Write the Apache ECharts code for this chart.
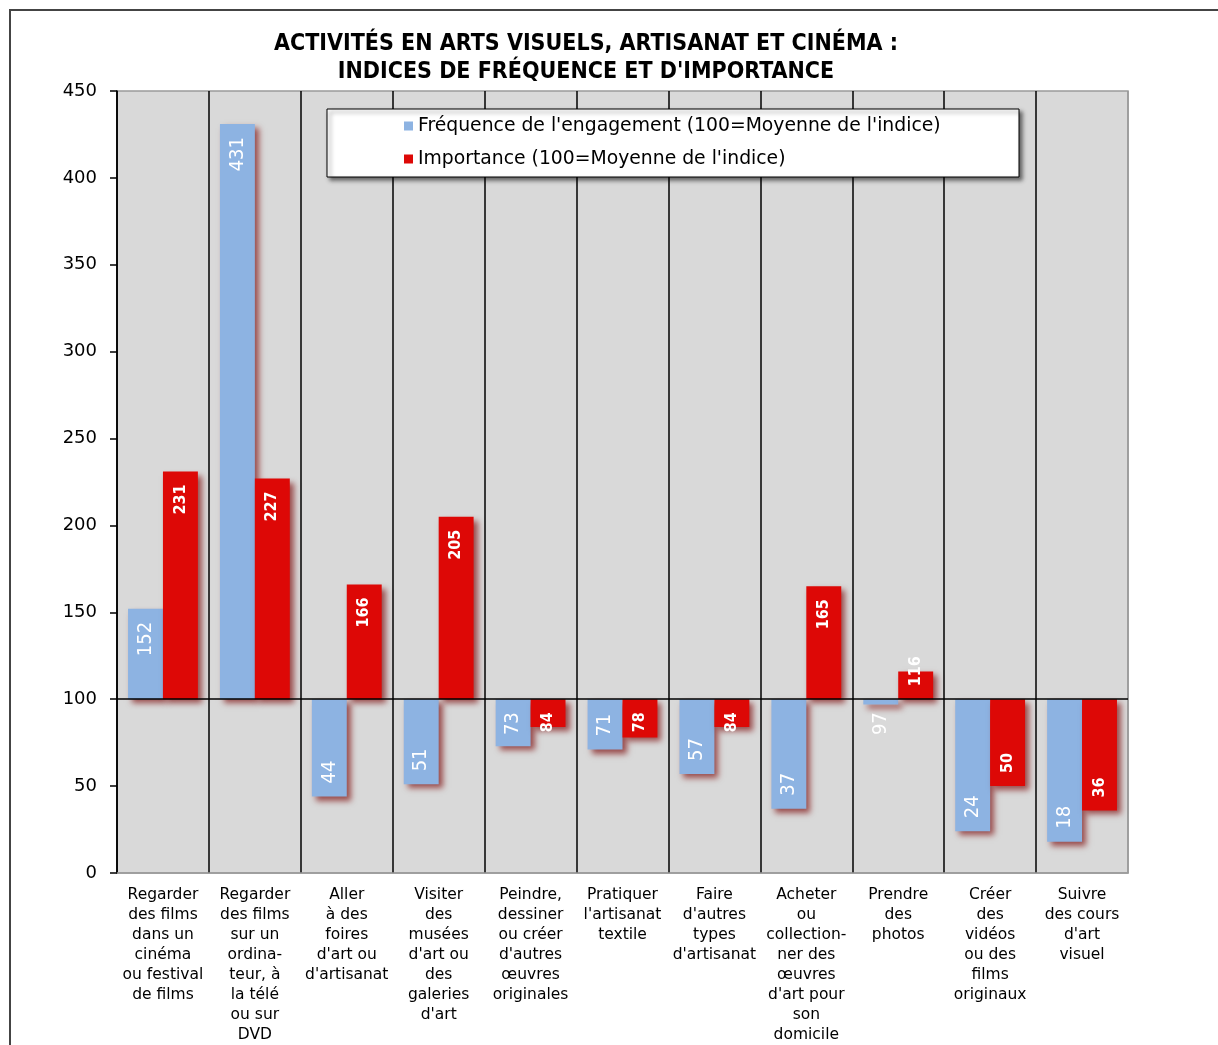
<!DOCTYPE html>
<html>
<head>
<meta charset="utf-8">
<title>Activités en arts visuels, artisanat et cinéma</title>
<script src="https://cdn.jsdelivr.net/npm/echarts@6/dist/echarts.min.js"></script>
<style>
  html, body { margin: 0; padding: 0; background: #fff; }
  #chart { width: 1218px; height: 1045px; }
</style>
</head>
<body>
<div id="chart"></div>
<script>
// valeurs (indice, 100 = moyenne)
var categories = [
  "Regarder\ndes films\ndans un\ncinéma\nou festival\nde films",
  "Regarder\ndes films\nsur un\nordina-\nteur, à\nla télé\nou sur\nDVD",
  "Aller\nà des\nfoires\nd'art ou\nd'artisanat",
  "Visiter\ndes\nmusées\nd'art ou\ndes\ngaleries\nd'art",
  "Peindre,\ndessiner\nou créer\nd'autres\nœuvres\noriginales",
  "Pratiquer\nl'artisanat\ntextile",
  "Faire\nd'autres\ntypes\nd'artisanat",
  "Acheter\nou\ncollection-\nner des\nœuvres\nd'art pour\nson\ndomicile",
  "Prendre\ndes\nphotos",
  "Créer\ndes\nvidéos\nou des\nfilms\noriginaux",
  "Suivre\ndes cours\nd'art\nvisuel"
];
var frequence = [152, 431, 44, 51, 73, 71, 57, 37, 97, 24, 18];
var importance = [231, 227, 166, 205, 84, 78, 84, 165, 116, 50, 36];
var seriesNames = [
  "Fréquence de l'engagement (100=Moyenne de l'indice)",
  "Importance (100=Moyenne de l'indice)"
];
var BASE = 100;

var FONT = "'DejaVu Sans', sans-serif";
var FONT_C = "'DejaVu Sans Condensed', 'DejaVu Sans', sans-serif";
var BLUE = "#8DB3E2";
var RED = "#DD0806";
var LABEL_PAD = 13;

var measureCtx = document.createElement("canvas").getContext("2d");
var textWidth = function (txt, font) {
  measureCtx.font = font;
  return measureCtx.measureText(txt).width;
};

// barre partant de la ligne 100, étiquette tournée façon Excel
var makeRender = function (side, color, labelFont) {
  return function (params, api) {
    var i = api.value(0);
    var v = api.value(1);
    var base = api.coord([i, BASE]);
    var end = api.coord([i, v]);
    var band = api.size([1, 0])[0];
    var w = band * 0.38;
    var x = side < 0 ? base[0] - w : base[0];
    var top = Math.min(base[1], end[1]);
    var h = Math.abs(base[1] - end[1]);
    var txt = String(v);
    var box = textWidth(txt, labelFont) + 2 * LABEL_PAD;
    var dir = v >= BASE ? -1 : 1;
    var cy = box <= h ? end[1] - dir * box / 2 : base[1] + dir * box / 2;
    return {
      type: "group",
      children: [
        {
          type: "rect",
          shape: { x: x, y: top, width: w, height: h },
          style: {
            fill: color,
            shadowColor: "rgba(120,0,0,0.65)",
            shadowBlur: 6,
            shadowOffsetX: 4,
            shadowOffsetY: 4
          }
        },
        {
          type: "text",
          x: x + w / 2,
          y: cy,
          rotation: Math.PI / 2,
          z2: 10,
          style: {
            text: txt,
            fill: "#fff",
            font: labelFont,
            align: "center",
            verticalAlign: "middle"
          }
        }
      ]
    };
  };
};

var toData = function (arr) {
  return arr.map(function (v, i) { return [i, v]; });
};

// séparateurs noirs, bord droit gris
var splitColors = categories.map(function () { return "#000"; });
splitColors.push("#9a9a9a");

var chart = echarts.init(document.getElementById("chart"));
var option = {
  backgroundColor: "#fff",
  animation: false,
  title: {
    text: "ACTIVITÉS EN ARTS VISUELS, ARTISANAT ET CINÉMA :\nINDICES DE FRÉQUENCE ET D'IMPORTANCE",
    left: 581,
    top: 25,
    textAlign: "center",
    textStyle: {
      fontFamily: FONT_C,
      fontWeight: "bold",
      fontSize: 23,
      lineHeight: 28,
      color: "#000"
    }
  },
  legend: {
    orient: "vertical",
    left: 404,
    top: 116,
    padding: 0,
    itemGap: 13,
    itemWidth: 9,
    itemHeight: 9,
    icon: "rect",
    z: 120,
    textStyle: { fontFamily: FONT, fontSize: 18.8, lineHeight: 20, color: "#000" },
    data: seriesNames
  },
  graphic: [
    {
      type: "polyline",
      shape: { points: [[10, 1045], [10, 10], [1218, 10]] },
      style: { stroke: "#444", lineWidth: 2, fill: null },
      silent: true
    },
    {
      type: "rect",
      z: 100,
      shape: { x: 327, y: 109, width: 692, height: 68 },
      style: {
        fill: "#fff",
        stroke: "#000",
        lineWidth: 1,
        shadowColor: "rgba(0,0,0,0.55)",
        shadowBlur: 4,
        shadowOffsetX: 3,
        shadowOffsetY: 3
      },
      silent: true
    }
  ],
  grid: {
    left: 117,
    right: 90,
    top: 91,
    bottom: 171,
    show: true,
    backgroundColor: "#D9D9D9",
    borderColor: "#9a9a9a",
    borderWidth: 1.5
  },
  xAxis: {
    type: "category",
    data: categories,
    axisLine: { lineStyle: { color: "#9a9a9a", width: 1.5 } },
    axisTick: { show: false },
    splitLine: { show: true, interval: 0, lineStyle: { color: splitColors, width: 1.5 } },
    axisLabel: {
      interval: 0,
      margin: 12,
      fontFamily: FONT,
      fontSize: 15.5,
      lineHeight: 20,
      color: "#000"
    }
  },
  yAxis: {
    type: "value",
    min: 0,
    max: 450,
    interval: 50,
    axisLine: { show: true, lineStyle: { color: "#000", width: 1.5 } },
    axisTick: { show: true, length: 7, lineStyle: { color: "#000", width: 1.5 } },
    splitLine: { show: false },
    axisLabel: { margin: 20, fontFamily: FONT, fontSize: 18, color: "#000" }
  },
  series: [
    {
      name: seriesNames[0],
      type: "custom",
      itemStyle: { color: BLUE },
      encode: { x: 0, y: 1 },
      renderItem: makeRender(-1, BLUE, "20px " + FONT_C),
      data: toData(frequence)
    },
    {
      name: seriesNames[1],
      type: "custom",
      itemStyle: { color: RED },
      encode: { x: 0, y: 1 },
      renderItem: makeRender(1, RED, "bold 16px " + FONT_C),
      data: toData(importance),
      markLine: {
        silent: true,
        symbol: "none",
        label: { show: false },
        lineStyle: { color: "#000", width: 1.5, type: "solid" },
        data: [{ yAxis: BASE }]
      }
    }
  ]
};
chart.setOption(option);
</script>
</body>
</html>
